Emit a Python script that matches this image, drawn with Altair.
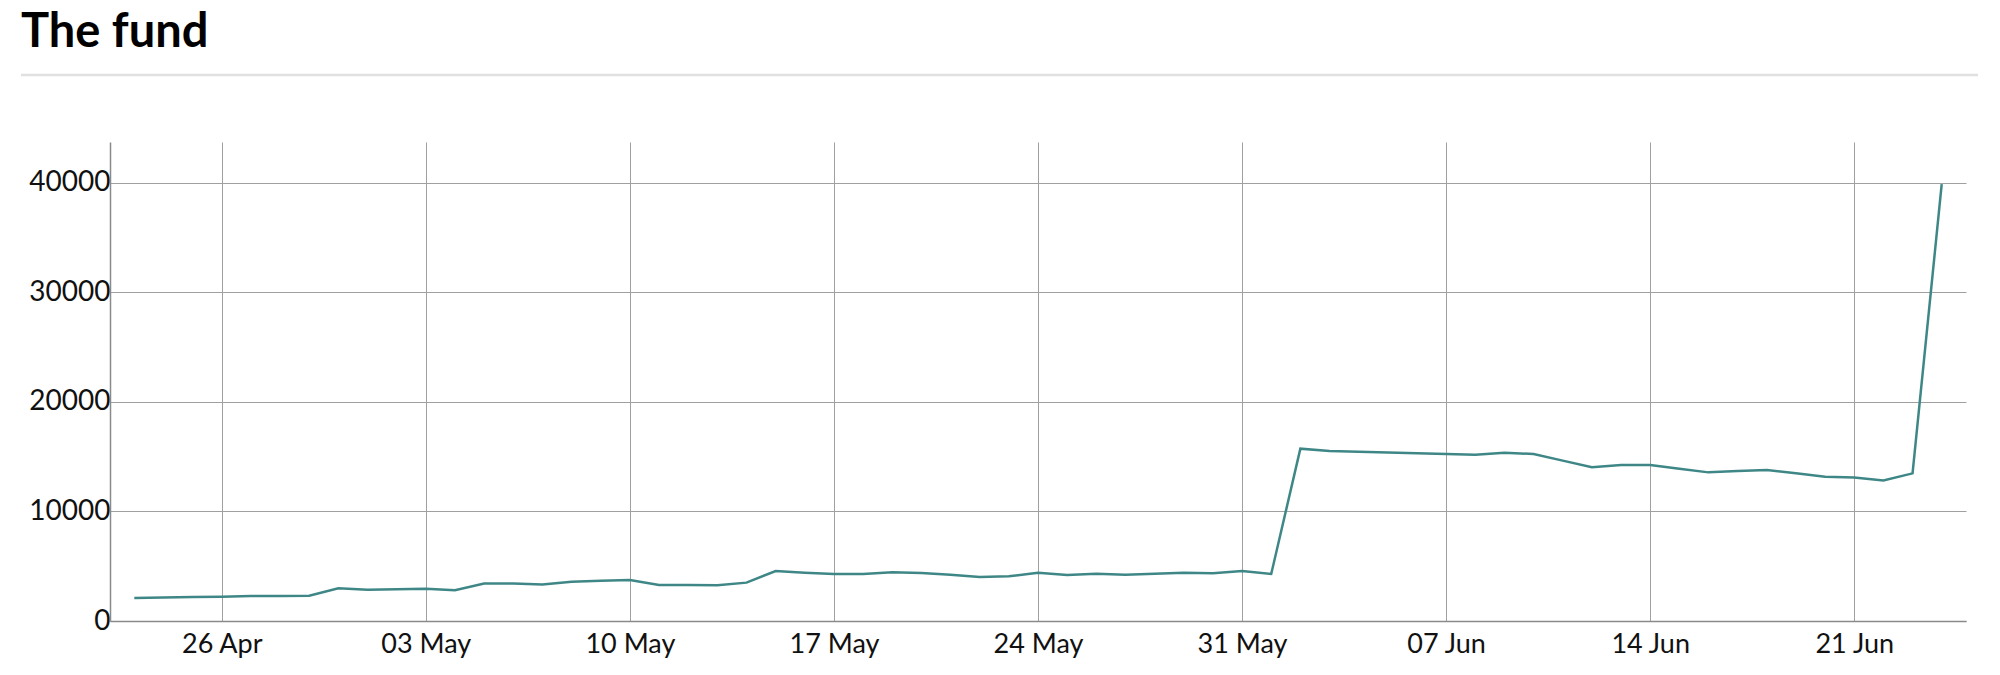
import altair as alt
import pandas as pd

# daily fund value, 23 Apr - 24 Jun 2020
dates = pd.date_range("2020-04-23", "2020-06-24", freq="D")
values = [
    2100, 2150, 2180, 2220, 2280, 2280, 2310, 2980, 2860, 2890,   # 23 Apr - 02 May
    2950, 2800, 3410, 3410, 3320, 3590, 3680, 3740, 3290, 3290,   # 03 May - 12 May
    3260, 3500, 4560, 4410, 4290, 4290, 4440, 4380, 4230, 4020,   # 13 May - 22 May
    4080, 4410, 4200, 4320, 4230, 4320, 4410, 4350, 4560, 4290,   # 23 May - 01 Jun
    15720, 15510, 15440, 15370, 15300, 15230, 15170, 15360, 15230, 14630,  # 02 Jun - 11 Jun
    14020, 14230, 14230, 13900, 13560, 13680, 13770, 13470, 13160, 13100,  # 12 Jun - 21 Jun
    12830, 13470, 39850,                                           # 22 Jun - 24 Jun
]
tick_days = [(4, 26), (5, 3), (5, 10), (5, 17), (5, 24), (5, 31), (6, 7), (6, 14), (6, 21)]
y_ticks = [0, 10000, 20000, 30000, 40000]
heading = ["The fund"]

df = pd.DataFrame({"date": dates.strftime("%Y-%m-%dT00:00:00Z"), "value": values})

font = "Lato"
grid = "#a0a0a0"

line = alt.Chart(df).mark_line(color="#3f8787", strokeWidth=2.5).encode(
    x=alt.X(
        "date:T",
        scale=alt.Scale(
            type="utc",
            domain=[
                alt.DateTime(year=2020, month=4, date=22, hours=4, utc=True),
                alt.DateTime(year=2020, month=6, date=24, hours=20, utc=True),
            ],
        ),
        axis=alt.Axis(
            values=[alt.DateTime(year=2020, month=m, date=d, utc=True) for m, d in tick_days],
            labelExpr="utcFormat(datum.value, '%d %b')",
            title=None,
            grid=True,
            gridColor=grid,
            gridWidth=1,
            ticks=False,
            domainColor="#8a8a8a",
            domainWidth=1.5,
            labelFont=font,
            labelFontSize=27,
            labelColor="#111",
            labelPadding=10,
        ),
    ),
    y=alt.Y(
        "value:Q",
        scale=alt.Scale(domain=[0, 43700], nice=False),
        axis=alt.Axis(
            values=y_ticks,
            format="d",
            title=None,
            grid=True,
            gridColor=grid,
            gridWidth=1,
            ticks=False,
            domainColor="#8a8a8a",
            domainWidth=1.5,
            labelFont=font,
            labelFontSize=28,
            labelColor="#111",
            labelPadding=0,
        ),
    ),
)

# heading and the thin divider under it
head_df = pd.DataFrame({"t": heading})
title = alt.Chart(head_df).mark_text(
    font=font, fontSize=47, fontWeight="bold", color="#000", align="left", baseline="alphabetic"
).encode(text="t:N", x=alt.value(-89), y=alt.value(-95))

divider = alt.Chart(head_df).mark_rule(color="#e0e0e0", strokeWidth=2.5).encode(
    x=alt.value(-89), x2=alt.value(1868), y=alt.value(-67)
)

chart = alt.layer(title, divider, line).properties(
    width=1856,
    height=479,
    autosize=alt.AutoSizeParams(type="none"),
    padding={"left": 102, "top": 134, "right": 20, "bottom": 40},
).configure_view(stroke=None)

chart.save("out.html", embed_options={"renderer": "svg", "actions": False})
